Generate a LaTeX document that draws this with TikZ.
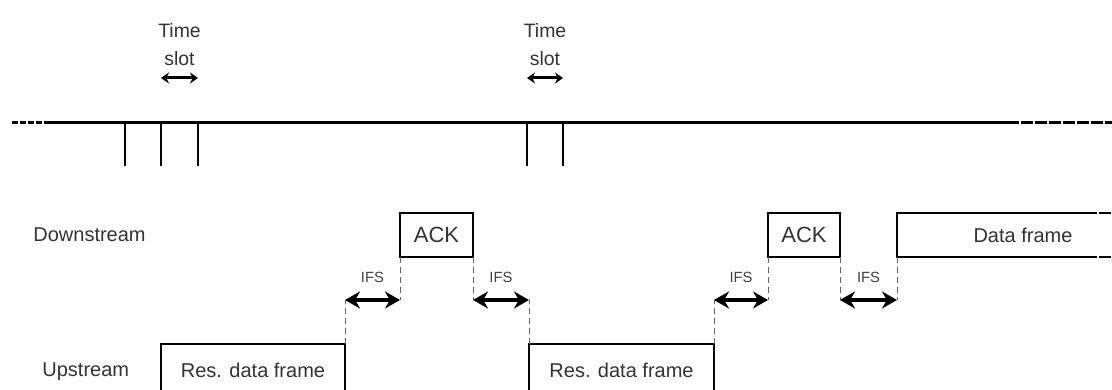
\documentclass[tikz,border=0pt]{standalone}
\usepackage{fontspec}
\setmainfont{Liberation Sans}
\usetikzlibrary{arrows.meta,positioning,calc}

\begin{document}
\begin{tikzpicture}[x=0.5pt, y=-0.5pt,
  >=Stealth, font=\fontsize{10}{12}\selectfont,
  lab/.style={text=black!80, inner sep=0pt},
  slotlab/.style={font=\fontsize{9.7}{11}\selectfont, text=black!80, inner sep=0pt, anchor=base},
  frame/.style={draw, line width=1pt, inner sep=0pt, outer sep=0pt, minimum height=22pt, text=black!80},
  ackbox/.style={frame, font=\fontsize{11}{13}\selectfont},
  axis/.style={line width=1.5pt},
  tick/.style={line width=1pt},
  guide/.style={densely dashed, line width=0.5pt, black!60},
  slot/.style={{Stealth[length=4pt,width=5.5pt]}-{Stealth[length=4pt,width=5.5pt]}, line width=1.5pt},
  ifs/.style={{Stealth[length=7.5pt,width=8.5pt]}-{Stealth[length=7.5pt,width=8.5pt]}, line width=1.6pt},
  ifslab/.style={font=\fontsize{7.4}{9}\selectfont, text=black!75, inner sep=0pt}]
  \clip (0,0) rectangle (1112,390);
  \fill[white] (0,0) rectangle (1112,390);
  \coordinate (axL) at (12,122);
  \coordinate (axA) at (45,122);
  \coordinate (axB) at (1007,122);
  \coordinate (axR) at (1112,122);
  \coordinate (slotrow) at (0,78);
  \coordinate (ifsrow) at (0,300);
  \draw[axis] (axA) -- (axB);
  \draw[axis, dash pattern=on 3pt off 1pt] (axL) -- (axA);
  \draw[axis, dash pattern=on 6pt off 1pt] (axB) -- (axR);
  \foreach \x [count=\i] in {125,161,198,527,563}
    \draw[tick] (\x,122) coordinate (t\i) -- (\x,166);
  \foreach \a/\b in {t2/t3,t4/t5}{
    \draw[slot] (\a |- slotrow) -- (\b |- slotrow)
      node[midway, slotlab, yshift=6pt] (slot\a) {slot}
      node[midway, slotlab, yshift=20pt] (time\a) {Time};
  }
  \node[lab, anchor=base west] (down) at (33,241) {Downstream};
  \node[lab, anchor=base west] (up) at (42,376) {Upstream};
  \node[ackbox, anchor=north west, minimum width=36.5pt] (ack1) at (400,213) {ACK};
  \node[ackbox, anchor=north west, minimum width=36pt] (ack2) at (768,213) {ACK};
  \node[frame, anchor=north west, minimum width=92pt, minimum height=26pt] (res1) at (161,344) {Res. data frame};
  \node[frame, anchor=north west, minimum width=92.5pt, minimum height=26pt] (res2) at (529,344) {Res. data frame};
  \node[frame, draw=none, anchor=north west, minimum width=126pt] (data) at (897,213) {Data frame};
  \draw[line width=1pt] ($(data.north west)+(188,0)$) -- (data.north west) -- (data.south west) -- ($(data.south west)+(188,0)$);
  \draw[line width=1pt, dash pattern=on 6pt off 1pt] ($(data.north west)+(188,0)$) -- (data.north east);
  \draw[line width=1pt, dash pattern=on 6pt off 1pt] ($(data.south west)+(188,0)$) -- (data.south east);
  \foreach \p/\q in {res1.north east/ack1.south west, ack1.south east/res2.north west,
                     res2.north east/ack2.south west, ack2.south east/data.south west}{
    \draw[guide] (\p) -- (\p |- ifsrow);
    \draw[guide] (\q) -- (\q |- ifsrow);
    \draw[ifs] (\p |- ifsrow) -- (\q |- ifsrow) node[midway, ifslab, yshift=11.5pt] {IFS};
  }
\end{tikzpicture}
\end{document}
